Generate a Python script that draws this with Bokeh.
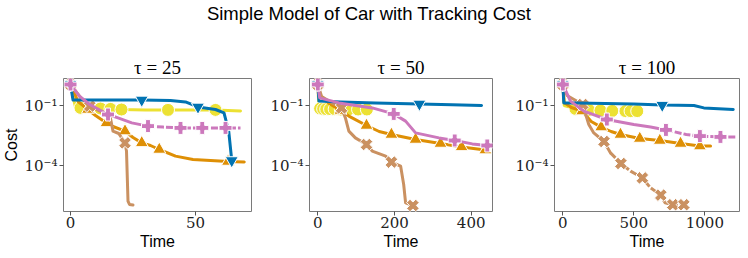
import numpy as np
from bokeh.plotting import figure
from bokeh.layouts import column, row
from bokeh.models import Range1d, FixedTicker
from bokeh.core.properties import value
from bokeh.embed import file_html
from bokeh.resources import INLINE

SUPTITLE = "Simple Model of Car with Tracking Cost"
TAUS = ["25", "50", "100"]
X_TICKS = [[0, 50], [0, 200, 400], [0, 500, 1000]]
Y_TICKS = [1e-1, 1e-4]
Y_TICK_LABELS = {1e-1: "10\u207b\u00b9", 1e-4: "10\u207b\u2074"}

# ---- tau = 25 : time values and log10(cost) ----
t25_blue_x = [0, 1, 10, 28.5, 40, 46, 51, 58, 61.4, 63.3, 64.5]
t25_blue_lg = [0.05, -0.72, -0.72, -0.72, -0.75, -0.82, -1.07, -1.2, -1.37, -2.3, -3.75]
t25_blue_mk = [0, 3, 6, 10]
t25_yellow_x = [0, 2, 4, 12, 16, 20.4, 30, 39, 48, 58, 68]
t25_yellow_lg = [0.05, -1.1, -1.12, -1.15, -1.17, -1.2, -1.22, -1.22, -1.22, -1.22, -1.27]
t25_yellow_mk = [2, 3, 4, 5, 7, 9]
t25_orange_x = [0, 3, 7, 10, 14.4, 17, 21.8, 25, 28.5, 32, 35.5, 42, 49, 56, 63, 69.5]
t25_orange_lg = [0.05, -0.8, -1.2, -1.5, -1.87, -2.05, -2.28, -2.6, -2.87, -3.0, -3.2, -3.53, -3.7, -3.75, -3.8, -3.82]
t25_orange_mk = [0, 2, 4, 6, 8, 10, 14]
t25_brown_x = [0, 4, 7.7, 12, 15.7, 17, 19.3, 21.8, 22.4, 23, 23.6, 25]
t25_brown_lg = [0.05, -0.6, -1.03, -1.3, -1.45, -2.28, -2.4, -2.87, -3.28, -5.78, -5.95, -5.98]
t25_brown_mk = [0, 2, 7]
t25_pink_x = [0, 3.6, 7.7, 15, 19, 24.5, 31, 37, 44, 52.7, 62, 68]
t25_pink_lg = [0.05, -0.53, -0.95, -1.45, -1.62, -1.87, -2.03, -2.08, -2.12, -2.12, -2.12, -2.12]
t25_pink_mk = [0, 3, 6, 8, 9, 10]

# ---- tau = 50 ----
t50_blue_x = [0, 3, 60, 150, 265, 350, 427]
t50_blue_lg = [0.05, -0.78, -0.82, -0.87, -0.92, -0.96, -1.0]
t50_blue_mk = [0, 4]
t50_yellow_x = [0, 3, 6, 14, 22, 32, 44, 60, 80, 105, 128, 137]
t50_yellow_lg = [0.05, -1.1, -1.15, -1.17, -1.18, -1.18, -1.18, -1.2, -1.2, -1.2, -1.2, -1.2]
t50_yellow_mk = [2, 3, 4, 5, 6, 7, 8, 9, 10]
t50_orange_x = [0, 5, 30, 59, 81, 127, 160, 192, 255, 320, 375, 437]
t50_orange_lg = [0.05, -0.5, -0.9, -1.25, -1.53, -2.0, -2.3, -2.45, -2.7, -2.9, -3.07, -3.23]
t50_orange_mk = [0, 3, 5, 7, 8, 9, 10, 11]
t50_brown_x = [0, 10, 40, 62, 72, 81, 98, 127, 142, 177, 192, 216, 224, 229, 248]
t50_brown_lg = [0.05, -0.55, -0.9, -1.12, -1.62, -2.28, -2.62, -2.95, -3.28, -3.53, -3.83, -4.03, -4.95, -5.87, -6.0]
t50_brown_mk = [0, 3, 7, 10, 14]
t50_pink_x = [0, 5, 55, 142, 198, 229, 255, 316, 357, 403, 442]
t50_pink_lg = [0.05, -0.62, -0.87, -1.12, -1.42, -1.78, -2.37, -2.62, -2.75, -2.92, -3.0]
t50_pink_mk = [0, 4, 8, 10]

# ---- tau = 100 ----
t100_blue_x = [0, 7, 100, 300, 500, 700, 923, 993, 1200]
t100_blue_lg = [0.05, -0.87, -0.88, -0.9, -0.92, -0.98, -1.0, -1.12, -1.2]
t100_blue_mk = [0, 5]
t100_yellow_x = [0, 10, 89, 183, 265, 348, 441, 477, 524]
t100_yellow_lg = [0.05, -1.0, -1.17, -1.22, -1.25, -1.27, -1.28, -1.28, -1.28]
t100_yellow_mk = [2, 3, 4, 5, 6, 7, 8]
t100_orange_x = [0, 10, 60, 136, 200, 270, 340, 406, 542, 683, 829, 965, 1040]
t100_orange_lg = [0.05, -0.85, -1.1, -1.28, -1.8, -2.08, -2.3, -2.45, -2.65, -2.75, -2.9, -3.03, -3.03]
t100_orange_mk = [0, 3, 5, 7, 8, 9, 10, 11]
t100_brown_x = [0, 30, 140, 183, 218, 290, 336, 409, 477, 560, 618, 690, 720, 774, 852]
t100_brown_lg = [0.05, -0.5, -0.95, -1.95, -2.37, -2.8, -3.37, -3.9, -4.28, -4.62, -5.12, -5.48, -5.87, -5.96, -5.96]
t100_brown_mk = [0, 2, 5, 7, 9, 11, 13, 14]
t100_pink_x = [0, 54, 148, 310, 500, 618, 726, 869, 965, 1110, 1216]
t100_pink_lg = [0.05, -0.78, -1.28, -1.7, -1.95, -2.08, -2.22, -2.45, -2.53, -2.57, -2.57]
t100_pink_mk = [0, 3, 6, 8, 9]

COLORS = {"blue": "#0173b2", "yellow": "#ece133", "orange": "#de8f05",
          "brown": "#ca9161", "pink": "#cc78bc"}
MARKERS = {"blue": ("inverted_triangle", 0.0, 13), "yellow": ("circle", 0.0, 13),
           "orange": ("triangle", 0.0, 13), "brown": ("plus", np.pi / 4, 13),
           "pink": ("plus", 0.0, 13)}
ORDER = ["yellow", "orange", "brown", "blue", "pink"]
# index from which a flat tail looks broken into dashes in the original
DASH_FROM = [{"pink": 6}, {}, {"pink": 6, "brown": 6}]

PANELS = [
    {"blue": (t25_blue_x, t25_blue_lg, t25_blue_mk), "yellow": (t25_yellow_x, t25_yellow_lg, t25_yellow_mk),
     "orange": (t25_orange_x, t25_orange_lg, t25_orange_mk), "brown": (t25_brown_x, t25_brown_lg, t25_brown_mk),
     "pink": (t25_pink_x, t25_pink_lg, t25_pink_mk)},
    {"blue": (t50_blue_x, t50_blue_lg, t50_blue_mk), "yellow": (t50_yellow_x, t50_yellow_lg, t50_yellow_mk),
     "orange": (t50_orange_x, t50_orange_lg, t50_orange_mk), "brown": (t50_brown_x, t50_brown_lg, t50_brown_mk),
     "pink": (t50_pink_x, t50_pink_lg, t50_pink_mk)},
    {"blue": (t100_blue_x, t100_blue_lg, t100_blue_mk), "yellow": (t100_yellow_x, t100_yellow_lg, t100_yellow_mk),
     "orange": (t100_orange_x, t100_orange_lg, t100_orange_mk), "brown": (t100_brown_x, t100_brown_lg, t100_brown_mk),
     "pink": (t100_pink_x, t100_pink_lg, t100_pink_mk)},
]

X_RANGES = [(-2.8, 72.4), (-21.6, 455.6), (-58.5, 1244)]
FRAME_W = [188, 183, 185]
BORDER_L = [55, 42, 46]
BORDER_R = [16, 16, 1]

SERIF = "DejaVu Serif"
SANS = "Liberation Sans"


def make_panel(i):
    p = figure(frame_width=FRAME_W[i], frame_height=133,
               x_range=Range1d(*X_RANGES[i]),
               y_range=Range1d(10 ** -6.3, 10 ** 0.35), y_axis_type="log",
               toolbar_location=None, output_backend="svg",
               min_border_left=BORDER_L[i], min_border_right=BORDER_R[i],
               min_border_top=38, min_border_bottom=31)
    p.title.text = "\u03c4 = " + TAUS[i]
    p.title.align = "center"
    p.title.text_font = "Liberation Serif"
    p.title.text_font_size = "19px"
    p.title.text_font_style = "normal"
    p.title.text_color = "black"
    p.title.standoff = 2
    p.grid.visible = False
    p.outline_line_color = "#7a7a7a"
    p.outline_line_width = 1
    p.background_fill_color = "white"
    p.border_fill_color = "white"
    for ax in p.axis:
        ax.axis_line_color = None
        ax.major_tick_line_color = "#555555"
        ax.major_tick_in = 0
        ax.major_tick_out = 4
        ax.minor_tick_line_color = None
        ax.major_label_text_font = SERIF
        ax.major_label_text_font_size = "15px"
        ax.major_label_text_color = "#222222"
        ax.major_label_standoff = 2
        ax.axis_label_text_font = SANS
        ax.axis_label_text_font_size = "16px"
        ax.axis_label_text_font_style = "normal"
        ax.axis_label_text_color = "black"
    p.xaxis.ticker = FixedTicker(ticks=X_TICKS[i])
    p.xaxis.major_label_standoff = 1
    p.yaxis.ticker = FixedTicker(ticks=Y_TICKS)
    p.yaxis.major_label_overrides = Y_TICK_LABELS
    p.xaxis.axis_label = "Time"
    p.xaxis.axis_label_standoff = 2
    if i == 0:
        p.yaxis.axis_label = "Cost"
        p.yaxis.axis_label_standoff = 1

    data = PANELS[i]
    for name in ORDER:
        xs, lg, mk = data[name]
        ys = [10 ** v for v in lg]
        col = COLORS[name]
        d = DASH_FROM[i].get(name)
        if d is None:
            p.line(xs, ys, line_color=col, line_width=3, line_join="round", line_cap="round")
        else:
            p.line(xs[:d + 1], ys[:d + 1], line_color=col, line_width=3, line_join="round", line_cap="round")
            p.line(xs[d:], ys[d:], line_color=col, line_width=3, line_join="round", line_dash="7 2")
        m, ang, sz = MARKERS[name]
        p.scatter([xs[k] for k in mk], [ys[k] for k in mk], marker=m, angle=ang, size=sz,
                  fill_color=col, line_color="white", line_width=1)
    return p


panels = [make_panel(i) for i in range(3)]

sup = figure(frame_width=732, frame_height=40, x_range=Range1d(0, 732), y_range=Range1d(0, 40),
             toolbar_location=None, output_backend="svg", min_border=0,
             x_axis_location=None, y_axis_location=None)
sup.grid.visible = False
sup.outline_line_color = None
sup.text(x=[368.5], y=[27.3], text=[SUPTITLE], text_align="center", text_baseline="alphabetic",
         text_font=value(SANS), text_font_size="18.5px", text_color="black")

layout = column(sup, row(*panels, spacing=0), spacing=0)
open("out.html", "w").write(file_html(layout, INLINE))
